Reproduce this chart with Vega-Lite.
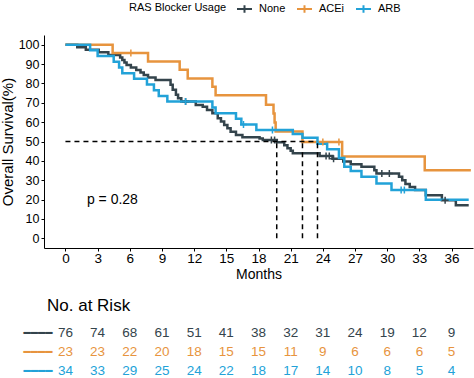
{
  "$schema": "https://vega.github.io/schema/vega-lite/v6.json",
  "padding": {"left": 0, "top": 0, "right": 0, "bottom": 0},
  "spacing": 15,
  "config": {
    "view": {"stroke": null},
    "font": "Liberation Sans",
    "axis": {"grid": false, "domainColor": "black", "tickColor": "black", "labelColor": "black", "titleColor": "black", "titleFontWeight": "normal", "tickSize": 3, "labelOverlap": false}
  },
  "datasets": {
    "km": [
      {"group":"None","month":0,"surv":100},{"group":"None","month":1.1,"surv":98.7},{"group":"None","month":1.9,"surv":97.4},{"group":"None","month":3.1,"surv":96.1},{"group":"None","month":4.0,"surv":94.7},{"group":"None","month":5.1,"surv":93.4},{"group":"None","month":5.3,"surv":92.1},{"group":"None","month":5.5,"surv":90.8},{"group":"None","month":5.7,"surv":89.5},{"group":"None","month":6.1,"surv":88.2},{"group":"None","month":6.6,"surv":86.9},{"group":"None","month":7.0,"surv":85.6},{"group":"None","month":7.3,"surv":84.3},{"group":"None","month":7.7,"surv":83.0},{"group":"None","month":8.4,"surv":81.7},{"group":"None","month":9.8,"surv":79.3},{"group":"None","month":10.0,"surv":76.7},{"group":"None","month":10.3,"surv":74.1},{"group":"None","month":10.5,"surv":72.4},{"group":"None","month":10.8,"surv":70.6},{"group":"None","month":12.15,"surv":68.9},{"group":"None","month":12.8,"surv":68.0},{"group":"None","month":13.2,"surv":66.3},{"group":"None","month":13.7,"surv":64.6},{"group":"None","month":14.2,"surv":62.0},{"group":"None","month":14.5,"surv":60.3},{"group":"None","month":14.8,"surv":58.5},{"group":"None","month":15.1,"surv":56.8},{"group":"None","month":15.4,"surv":55.1},{"group":"None","month":15.9,"surv":53.4},{"group":"None","month":16.5,"surv":52.2},{"group":"None","month":18.1,"surv":51.5},{"group":"None","month":18.4,"surv":50.8},{"group":"None","month":19.7,"surv":49.6},{"group":"None","month":20.4,"surv":48.0},{"group":"None","month":20.7,"surv":46.5},{"group":"None","month":21.0,"surv":45.2},{"group":"None","month":21.2,"surv":43.9},{"group":"None","month":23.7,"surv":42.5},{"group":"None","month":24.9,"surv":41.1},{"group":"None","month":25.9,"surv":39.7},{"group":"None","month":26.6,"surv":38.3},{"group":"None","month":27.6,"surv":36.9},{"group":"None","month":28.8,"surv":35.2},{"group":"None","month":29.0,"surv":33.5},{"group":"None","month":31.1,"surv":31.8},{"group":"None","month":31.4,"surv":30.0},{"group":"None","month":31.7,"surv":28.0},{"group":"None","month":32.1,"surv":26.5},{"group":"None","month":32.6,"surv":24.9},{"group":"None","month":33.6,"surv":22.3},{"group":"None","month":35.1,"surv":19.7},{"group":"None","month":36.4,"surv":17.1},{"group":"None","month":37.6,"surv":17.1},
      {"group":"ACEi","month":0,"surv":100},{"group":"ACEi","month":4.4,"surv":95.7},{"group":"ACEi","month":7.7,"surv":91.3},{"group":"ACEi","month":10.65,"surv":87.0},{"group":"ACEi","month":11.4,"surv":82.6},{"group":"ACEi","month":13.7,"surv":78.3},{"group":"ACEi","month":14.0,"surv":73.9},{"group":"ACEi","month":18.7,"surv":69.0},{"group":"ACEi","month":19.4,"surv":64.4},{"group":"ACEi","month":19.5,"surv":59.8},{"group":"ACEi","month":19.6,"surv":55.2},{"group":"ACEi","month":22.1,"surv":49.7},{"group":"ACEi","month":25.8,"surv":42.2},{"group":"ACEi","month":33.5,"surv":35.1},{"group":"ACEi","month":37.8,"surv":35.1},
      {"group":"ARB","month":0,"surv":100},{"group":"ARB","month":2.3,"surv":97.1},{"group":"ARB","month":3.0,"surv":94.1},{"group":"ARB","month":4.5,"surv":91.2},{"group":"ARB","month":5.0,"surv":88.2},{"group":"ARB","month":5.3,"surv":85.3},{"group":"ARB","month":6.4,"surv":82.4},{"group":"ARB","month":7.6,"surv":79.4},{"group":"ARB","month":8.25,"surv":76.5},{"group":"ARB","month":8.7,"surv":73.5},{"group":"ARB","month":9.5,"surv":70.6},{"group":"ARB","month":13.7,"surv":67.6},{"group":"ARB","month":14.0,"surv":64.6},{"group":"ARB","month":15.9,"surv":61.7},{"group":"ARB","month":16.4,"surv":58.8},{"group":"ARB","month":17.8,"surv":55.9},{"group":"ARB","month":21.2,"surv":53.9},{"group":"ARB","month":22.1,"surv":51.9},{"group":"ARB","month":23.5,"surv":48.8},{"group":"ARB","month":24.4,"surv":46.0},{"group":"ARB","month":25.5,"surv":41.5},{"group":"ARB","month":26.0,"surv":37.0},{"group":"ARB","month":26.6,"surv":34.8},{"group":"ARB","month":27.6,"surv":31.8},{"group":"ARB","month":29.0,"surv":28.3},{"group":"ARB","month":30.4,"surv":24.9},{"group":"ARB","month":33.6,"surv":19.9},{"group":"ARB","month":37.6,"surv":19.9}
    ],
    "censor": [
      {"group":"None","month":11.2,"surv":70.6},{"group":"None","month":19.2,"surv":50.8},{"group":"None","month":19.5,"surv":50.8},{"group":"None","month":24.3,"surv":42.5},{"group":"None","month":24.6,"surv":42.5},{"group":"None","month":25.0,"surv":41.1},{"group":"None","month":29.5,"surv":33.5},{"group":"None","month":30.2,"surv":33.5},{"group":"None","month":35.4,"surv":19.7},
      {"group":"ACEi","month":6.1,"surv":95.7},{"group":"ACEi","month":24.0,"surv":49.7},{"group":"ACEi","month":25.5,"surv":49.7},
      {"group":"ARB","month":11.2,"surv":70.6},{"group":"ARB","month":16.6,"surv":58.8},{"group":"ARB","month":19.3,"surv":55.9},{"group":"ARB","month":31.3,"surv":24.9},{"group":"ARB","month":31.6,"surv":24.9}
    ],
    "median": [
      {"month":0,"month2":23.5,"surv":50,"surv2":50},
      {"month":19.7,"month2":19.7,"surv":0,"surv2":50},
      {"month":22.1,"month2":22.1,"surv":0,"surv2":50},
      {"month":23.5,"month2":23.5,"surv":0,"surv2":50}
    ],
    "pval": [
      {"label":"p = 0.28","month":2,"surv":20}
    ],
    "risk": [
      {"group":"None","month":0,"n":76},{"group":"None","month":3,"n":74},{"group":"None","month":6,"n":68},{"group":"None","month":9,"n":61},{"group":"None","month":12,"n":51},{"group":"None","month":15,"n":41},{"group":"None","month":18,"n":38},{"group":"None","month":21,"n":32},{"group":"None","month":24,"n":31},{"group":"None","month":27,"n":24},{"group":"None","month":30,"n":19},{"group":"None","month":33,"n":12},{"group":"None","month":36,"n":9},
      {"group":"ACEi","month":0,"n":23},{"group":"ACEi","month":3,"n":23},{"group":"ACEi","month":6,"n":22},{"group":"ACEi","month":9,"n":20},{"group":"ACEi","month":12,"n":18},{"group":"ACEi","month":15,"n":15},{"group":"ACEi","month":18,"n":15},{"group":"ACEi","month":21,"n":11},{"group":"ACEi","month":24,"n":9},{"group":"ACEi","month":27,"n":6},{"group":"ACEi","month":30,"n":6},{"group":"ACEi","month":33,"n":6},{"group":"ACEi","month":36,"n":5},
      {"group":"ARB","month":0,"n":34},{"group":"ARB","month":3,"n":33},{"group":"ARB","month":6,"n":29},{"group":"ARB","month":9,"n":25},{"group":"ARB","month":12,"n":24},{"group":"ARB","month":15,"n":22},{"group":"ARB","month":18,"n":18},{"group":"ARB","month":21,"n":17},{"group":"ARB","month":24,"n":14},{"group":"ARB","month":27,"n":10},{"group":"ARB","month":30,"n":8},{"group":"ARB","month":33,"n":5},{"group":"ARB","month":36,"n":4}
    ]
  },
  "vconcat": [
    {
      "width": 429,
      "height": 213,
      "layer": [
        {
          "data": {"name": "km"},
          "mark": {"type": "line", "interpolate": "step-after", "strokeWidth": 2.5},
          "encoding": {
            "x": {"field": "month", "type": "quantitative", "title": "Months",
                  "scale": {"domain": [-2, 38], "nice": false, "zero": false},
                  "axis": {"values": [0,3,6,9,12,15,18,21,24,27,30,33,36], "labelOverlap": false, "labelFontSize": 13.5, "labelPadding": 0, "titleFontSize": 14, "titlePadding": 3}},
            "y": {"field": "surv", "type": "quantitative", "title": "Overall Survival(%)",
                  "scale": {"domain": [-5, 105], "nice": false, "zero": false},
                  "axis": {"values": [0,10,20,30,40,50,60,70,80,90,100], "labelOverlap": false, "labelFontSize": 12.5, "labelPadding": 2, "titleFontSize": 15, "titlePadding": 3}},
            "color": {"field": "group", "type": "nominal",
                      "scale": {"domain": ["None","ACEi","ARB"], "range": ["#34444C","#E7943E","#22A2D8"]},
                      "legend": {"title": "RAS Blocker Usage", "orient": "none", "legendX": 85, "legendY": -35, "direction": "horizontal", "titleOrient": "left", "titleFontSize": 11, "titleFontWeight": "normal", "titleColor": "black", "titlePadding": 9, "labelFontSize": 11, "labelColor": "black", "labelOffset": 6, "columnPadding": 7, "symbolType": "M-1,0H1M0,-0.5V0.5", "symbolSize": 225, "symbolStrokeWidth": 2}},
            "order": {"field": "month", "type": "quantitative"}
          }
        },
        {
          "data": {"name": "censor"},
          "mark": {"type": "point", "shape": "M-1,0H1M0,-1V1", "filled": false, "size": 49, "strokeWidth": 1.5, "opacity": 1},
          "encoding": {
            "x": {"field": "month", "type": "quantitative", "title": "Months", "axis": {"values": [0,3,6,9,12,15,18,21,24,27,30,33,36], "labelOverlap": false}},
            "y": {"field": "surv", "type": "quantitative", "title": "Overall Survival(%)", "axis": {"values": [0,10,20,30,40,50,60,70,80,90,100], "labelOverlap": false}},
            "color": {"field": "group", "type": "nominal"}
          }
        },
        {
          "data": {"name": "median"},
          "mark": {"type": "rule", "strokeDash": [5, 4], "strokeWidth": 1.5, "color": "black"},
          "encoding": {
            "x": {"field": "month", "type": "quantitative", "title": "Months", "axis": {"values": [0,3,6,9,12,15,18,21,24,27,30,33,36], "labelOverlap": false}},
            "x2": {"field": "month2"},
            "y": {"field": "surv", "type": "quantitative", "title": "Overall Survival(%)", "axis": {"values": [0,10,20,30,40,50,60,70,80,90,100], "labelOverlap": false}},
            "y2": {"field": "surv2"}
          }
        },
        {
          "data": {"name": "pval"},
          "mark": {"type": "text", "align": "left", "baseline": "middle", "fontSize": 14, "color": "black"},
          "encoding": {
            "x": {"field": "month", "type": "quantitative", "title": "Months", "axis": {"values": [0,3,6,9,12,15,18,21,24,27,30,33,36], "labelOverlap": false}},
            "y": {"field": "surv", "type": "quantitative", "title": "Overall Survival(%)", "axis": {"values": [0,10,20,30,40,50,60,70,80,90,100], "labelOverlap": false}},
            "text": {"field": "label"}
          }
        }
      ]
    },
    {
      "width": 429,
      "height": 57,
      "title": {"text": "No. at Risk", "anchor": "start", "frame": "group", "fontSize": 17, "fontWeight": "normal", "color": "black", "offset": 8, "dx": 3},
      "data": {"name": "risk"},
      "mark": {"type": "text", "fontSize": 13.5, "baseline": "middle"},
      "encoding": {
        "x": {"field": "month", "type": "quantitative", "scale": {"domain": [-2, 38], "nice": false, "zero": false}, "axis": null},
        "y": {"field": "group", "type": "nominal", "scale": {"domain": ["None","ACEi","ARB"], "paddingInner": 0, "paddingOuter": 0},
              "axis": {"title": null, "domain": false, "ticks": false, "labelExpr": "'━━━━'", "labelPadding": -8, "labelFont": "DejaVu Sans", "labelFontSize": 12, "labelBaseline": "middle",
                       "labelColor": {"condition": [{"test": "datum.value === 'None'", "value": "#34444C"}, {"test": "datum.value === 'ACEi'", "value": "#E7943E"}], "value": "#22A2D8"}}},
        "text": {"field": "n", "type": "quantitative"},
        "color": {"field": "group", "type": "nominal", "legend": null}
      }
    }
  ]
}
